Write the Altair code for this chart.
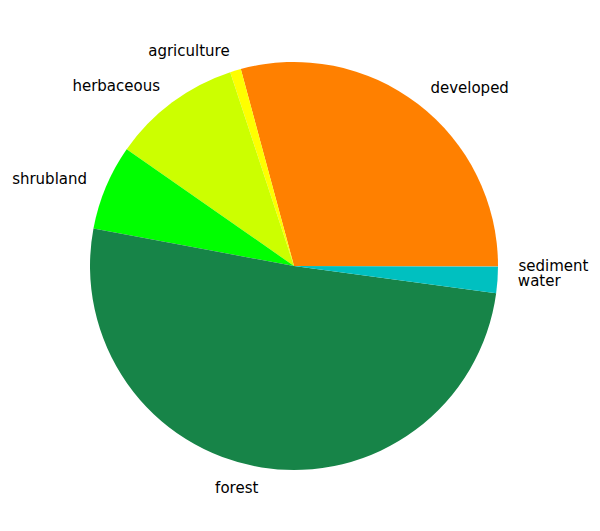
import math
import altair as alt
import pandas as pd

labels = ["developed", "agriculture", "herbaceous", "shrubland", "forest", "water", "sediment"]
values = [29.2, 0.86, 10.25, 6.75, 50.8, 2.1, 0.04]
colors = ["#FF8000", "#FFFF00", "#CCFF00", "#00FF00", "#178448", "#00C0C0", "#C8A064"]

df = pd.DataFrame({"label": labels, "value": values, "idx": list(range(len(labels)))})

W, H, R = 572, 516, 204
xs = alt.Scale(domain=[-W / 2 / R, W / 2 / R], nice=False, zero=False)
ys = alt.Scale(domain=[-H / 2 / R, H / 2 / R], nice=False, zero=False)

base = alt.Chart(df)

pie = base.mark_arc(outerRadius=R, stroke=None).encode(
    theta=alt.Theta("value:Q", stack=True,
                    scale=alt.Scale(range=[math.pi / 2, math.pi / 2 + 2 * math.pi])),
    color=alt.Color("label:N", scale=alt.Scale(domain=labels, range=colors), legend=None),
    order=alt.Order("idx:Q", sort="descending"),
)

lab = base.transform_joinaggregate(total="sum(value)").transform_window(
    cum="sum(value)", sort=[alt.SortField("idx")], frame=[None, 0]
).transform_calculate(
    mid="(datum.cum - datum.value/2)/datum.total*2*PI",
    lx="1.1*cos(datum.mid)",
    ly="1.1*sin(datum.mid)",
)

txt = dict(baseline="middle", fontSize=15, font="DejaVu Sans", color="black")
enc = dict(
    x=alt.X("lx:Q", scale=xs, axis=None),
    y=alt.Y("ly:Q", scale=ys, axis=None),
    text="label:N",
)
right = lab.transform_filter("datum.lx >= 0").mark_text(align="left", **txt).encode(**enc)
left = lab.transform_filter("datum.lx < 0").mark_text(align="right", **txt).encode(**enc)

chart = alt.layer(pie, left, right).properties(
    width=W, height=H, padding=0
).configure_view(stroke=None)

chart.save("out.html", embed_options={"renderer": "svg", "actions": False})
